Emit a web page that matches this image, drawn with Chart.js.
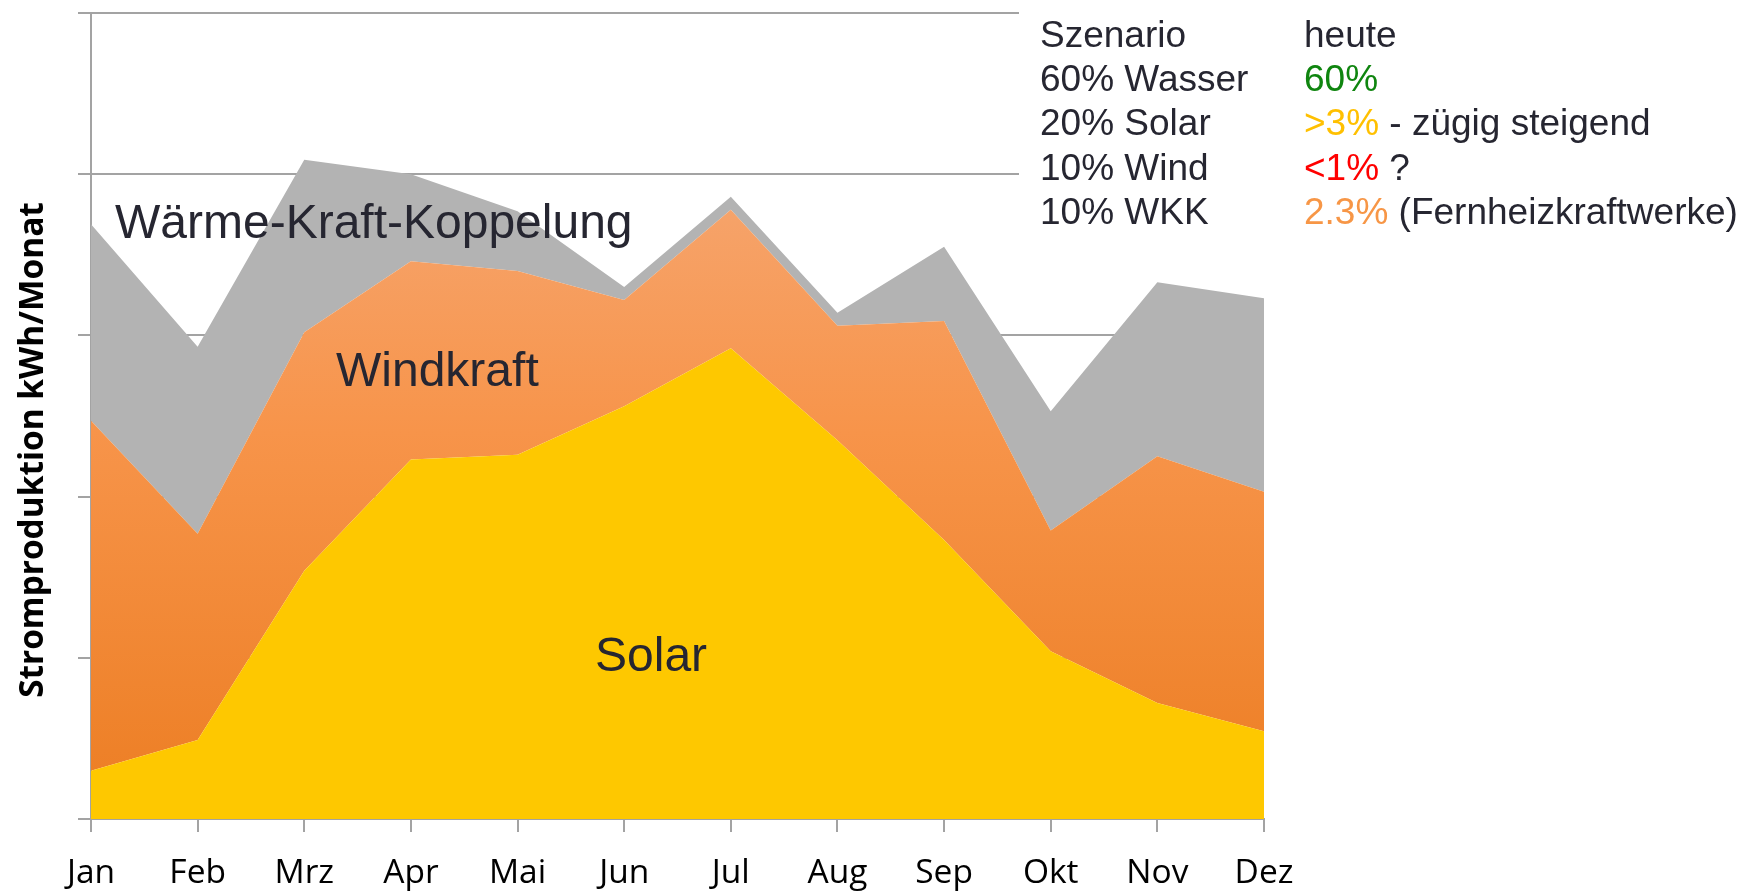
<!DOCTYPE html>
<html>
<head>
<meta charset="utf-8">
<script src="https://cdn.jsdelivr.net/npm/chart.js@4.4.1/dist/chart.umd.min.js"></script>
<style>
  html, body { margin: 0; padding: 0; background: #ffffff; }
  #wrap { position: relative; width: 1745px; height: 891px; }
</style>
</head>
<body>
<div id="wrap"><canvas id="c"></canvas></div>
<script>
// ---- data ----
const months = ['Jan','Feb','Mrz','Apr','Mai','Jun','Jul','Aug','Sep','Okt','Nov','Dez'];
const solar = [0.30, 0.49, 1.54, 2.23, 2.26, 2.56, 2.92, 2.35, 1.73, 1.04, 0.72, 0.545];
const windkraft = [2.17, 1.28, 1.48, 1.23, 1.14, 0.66, 0.86, 0.71, 1.36, 0.75, 1.53, 1.485];
const waermeKraftKoppelung = [1.22, 1.16, 1.07, 0.54, 0.37, 0.08, 0.08, 0.08, 0.46, 0.74, 1.08, 1.20];
const seriesNames = ['Solar', 'Windkraft', 'Wärme-Kraft-Koppelung'];
const yTitle = 'Stromproduktion kWh/Monat';
const scenarioHeader = ['Szenario', 'heute'];
const scenarioLabels = ['60% Wasser', '20% Solar', '10% Wind', '10% WKK'];
const todayValues = ['60%', '>3%', '<1%', '2.3%'];
const todayNotes = ['', ' - zügig steigend', ' ?', ' (Fernheizkraftwerke)'];

// ---- styles ----
const GRID = '#a3a3a3';
const TEXT = '#262631';
const todayColors = ['#0f850f', '#ffc000', '#ff0000', '#f79646'];

function windGradient(ctx) {
  const chart = ctx.chart;
  const a = chart.chartArea;
  if (!a) return '#f79646';
  const g = chart.ctx.createLinearGradient(0, a.top, 0, a.bottom);
  g.addColorStop(0.0, '#f5ad7f');
  g.addColorStop(0.24, '#f6a36a');
  g.addColorStop(0.52, '#f7944a');
  g.addColorStop(1.0, '#ec7d22');
  return g;
}

const overlay = {
  id: 'overlay',
  afterDatasetsDraw(chart) {
    const c = chart.ctx;
    c.save();
    c.fillStyle = TEXT;
    c.textAlign = 'left';
    c.textBaseline = 'alphabetic';
    c.font = '48px "Liberation Sans", Arial, sans-serif';
    c.fillText(seriesNames[2], 115, 238);
    c.fillText(seriesNames[1], 336, 386);
    c.fillText(seriesNames[0], 595, 671);
    c.restore();
  },
  afterDraw(chart) {
    const c = chart.ctx;
    c.save();
    // white text box covering the gridlines on the right
    c.fillStyle = '#ffffff';
    c.fillRect(1019, 0, 1745 - 1019, 242);
    c.font = '37px "Liberation Sans", Arial, sans-serif';
    c.textAlign = 'left';
    c.textBaseline = 'alphabetic';
    const x1 = 1040, x2 = 1304, y0 = 46.7, dy = 44.3;
    c.fillStyle = TEXT;
    c.fillText(scenarioHeader[0], x1, y0);
    c.fillText(scenarioHeader[1], x2, y0);
    for (let i = 0; i < scenarioLabels.length; i++) {
      const y = y0 + dy * (i + 1);
      c.fillStyle = TEXT;
      c.fillText(scenarioLabels[i], x1, y);
      c.fillStyle = todayColors[i];
      c.fillText(todayValues[i], x2, y);
      const w = c.measureText(todayValues[i]).width;
      c.fillStyle = TEXT;
      c.fillText(todayNotes[i], x2 + w, y);
    }
    // y-axis title
    c.translate(33, 450);
    c.rotate(-Math.PI / 2);
    c.font = 'bold 33.4px "Open Sans", sans-serif';
    c.fillStyle = '#000000';
    c.textAlign = 'center';
    c.textBaseline = 'middle';
    c.fillText(yTitle, 0, 0);
    c.restore();
  }
};

new Chart(document.getElementById('c'), {
  type: 'line',
  data: {
    labels: months,
    datasets: [
      { label: seriesNames[0], data: solar, fill: 'origin', backgroundColor: '#fec800',
        borderWidth: 0, borderColor: 'rgba(0,0,0,0)', pointRadius: 0, tension: 0 },
      { label: seriesNames[1], data: windkraft, fill: '-1', backgroundColor: windGradient,
        borderWidth: 0, borderColor: 'rgba(0,0,0,0)', pointRadius: 0, tension: 0 },
      { label: seriesNames[2], data: waermeKraftKoppelung, fill: '-1', backgroundColor: '#b3b3b3',
        borderWidth: 0, borderColor: 'rgba(0,0,0,0)', pointRadius: 0, tension: 0 }
    ]
  },
  options: {
    responsive: true,
    maintainAspectRatio: false,
    animation: false,
    layout: { padding: { left: 78, top: 13, right: 481, bottom: 0 } },
    plugins: { legend: { display: false }, tooltip: { enabled: false } },
    elements: { line: { borderWidth: 0 } },
    scales: {
      x: {
        offset: false,
        grid: { display: true, drawOnChartArea: false, drawTicks: true, tickLength: 13, color: GRID, lineWidth: 2 },
        border: { display: true, color: GRID, width: 2 },
        ticks: { color: '#000000', font: { family: '"Open Sans", sans-serif', size: 33.5, lineHeight: 1.0 }, padding: 25, maxRotation: 0, autoSkip: false },
        afterFit: (s) => { s.height = 72; }
      },
      y: {
        stacked: true,
        min: 0, max: 5,
        grid: { color: GRID, lineWidth: 2, drawTicks: true, tickLength: 13 },
        border: { display: true, color: GRID, width: 2 },
        ticks: { display: false, stepSize: 1 },
        afterFit: (s) => { s.width = 13; }
      }
    }
  },
  plugins: [overlay]
});
</script>
</body>
</html>
